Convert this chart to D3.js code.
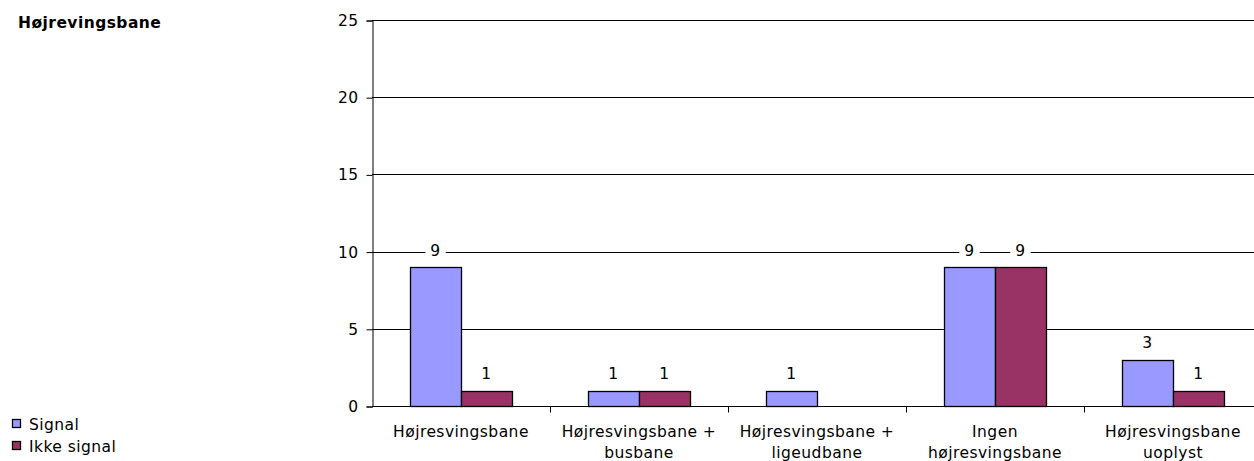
<!DOCTYPE html>
<html><head><meta charset="utf-8">
<script src="https://cdn.jsdelivr.net/npm/d3@7"></script>
<style>body{margin:0;background:#fff}svg{display:block}text{font-family:"DejaVu Sans",Verdana,sans-serif;letter-spacing:0.45px}</style>
</head><body><svg id="c" width="1254" height="461"></svg>
<script>
const categories = [["Højresvingsbane"],["Højresvingsbane +","busbane"],["Højresvingsbane +","ligeudbane"],["Ingen","højresvingsbane"],["Højresvingsbane","uoplyst"]];
const seriesNames = ["Signal","Ikke signal"];
const signal = [9,1,1,9,3];
const ikkeSignal = [1,1,null,9,1];
const yTicks = [0,5,10,15,20,25];
const colors = ["#9999FF","#993366"];
const title = "Højrevingsbane";

const FS = 15.5;
const svg = d3.select("#c");
const L = 372, R = 1262, T = 20, B = 406;
const x = d3.scaleBand().domain(d3.range(categories.length)).range([L,R]).paddingInner(0).paddingOuter(0);
const y = d3.scaleLinear().domain([0,25]).range([B,T]);
const inner = d3.scaleBand().domain([0,1]).range([0,x.bandwidth()]).paddingOuter(0.745).paddingInner(0);

// gridlines
svg.append("g").selectAll("line").data(yTicks.filter(d=>d>0)).join("line")
  .attr("x1",L).attr("x2",1254).attr("y1",d=>Math.round(y(d))+0.5).attr("y2",d=>Math.round(y(d))+0.5)
  .attr("stroke","#000").attr("stroke-width",1);

// y axis
const ya = svg.append("g").attr("transform",`translate(${L+0.5},0.5)`)
  .call(d3.axisLeft(y).tickValues(yTicks).tickSize(6).tickPadding(8));
ya.select(".domain").attr("stroke","#000");
ya.selectAll("text").attr("font-size",FS).attr("fill","#000").attr("font-family","DejaVu Sans");

// bars
const data = [signal, ikkeSignal];
data.forEach((vals,si)=>{
  svg.append("g").selectAll("rect").data(vals.map((v,i)=>({v,i})).filter(d=>d.v!=null)).join("rect")
    .attr("x",d=>Math.round(x(d.i)+inner(si))+0.5)
    .attr("y",d=>Math.round(y(d.v))+0.5)
    .attr("width",Math.round(inner.bandwidth()))
    .attr("height",d=>Math.round(y(0))-Math.round(y(d.v)))
    .attr("fill",colors[si]).attr("stroke","#000").attr("stroke-width",1.3);
});

// x axis
const xa = svg.append("g").attr("transform",`translate(0,${B+0.5})`);
xa.append("line").attr("x1",L).attr("x2",1254).attr("stroke","#000");
xa.selectAll("line.t").data(d3.range(1,categories.length)).join("line").attr("class","t")
  .attr("x1",d=>Math.round(x(d))+0.5).attr("x2",d=>Math.round(x(d))+0.5).attr("y1",0).attr("y2",6).attr("stroke","#000");
categories.forEach((lines,i)=>{
  const t = xa.append("text").attr("text-anchor","middle").attr("font-size",FS).attr("fill","#000");
  lines.forEach((ln,j)=>t.append("tspan").attr("x",x(i)+x.bandwidth()/2).attr("y",30+j*21).text(ln));
});

// data labels
data.forEach((vals,si)=>{
  vals.forEach((v,i)=>{
    if(v==null) return;
    const cx = x(i)+inner(si)+inner.bandwidth()/2;
    const cy = y(v)-17;
    const g = svg.append("g");
    const t = g.append("text").attr("x",cx).attr("y",cy+5.5).attr("text-anchor","middle").attr("font-size",FS).attr("fill","#000").text(v);
    const bb = t.node().getBBox();
    g.insert("rect","text").attr("x",bb.x-5).attr("y",bb.y-1).attr("width",bb.width+10).attr("height",bb.height+2).attr("fill","#fff");
  });
});

// title
svg.append("text").attr("x",18).attr("y",28).attr("font-size",FS).attr("font-weight","bold").attr("fill","#000").text(title);

// legend
seriesNames.forEach((n,i)=>{
  const yy = 419 + i*22;
  svg.append("rect").attr("x",12.5).attr("y",yy+0.5).attr("width",8).attr("height",8).attr("fill",colors[i]).attr("stroke","#000").attr("stroke-width",1.3);
  svg.append("text").attr("x",29).attr("y",yy+11).attr("font-size",FS).attr("fill","#000").text(n);
});
</script></body></html>
